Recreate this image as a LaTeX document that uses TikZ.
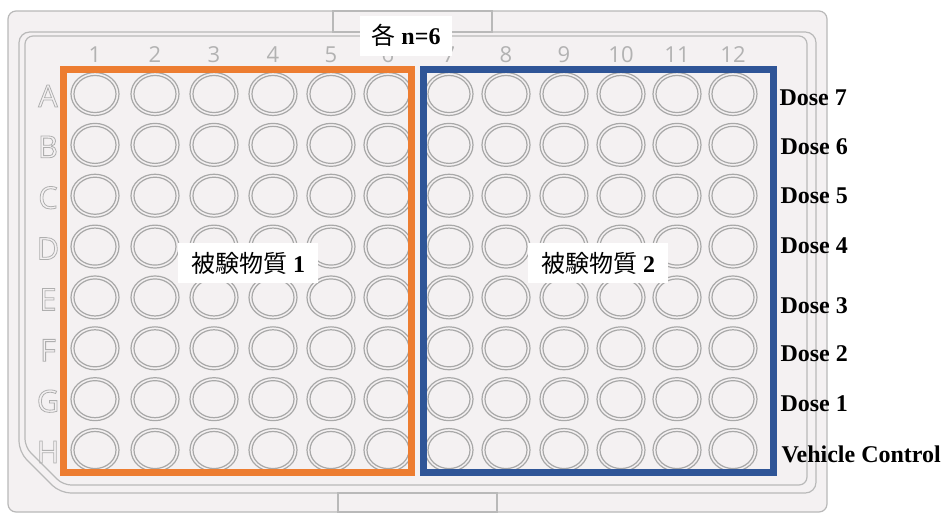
\documentclass[tikz,border=0pt]{standalone}
\usepackage{fontspec}
\setmainfont{Liberation Serif}
\newfontfamily\jpfont{Noto Sans CJK JP}
\newfontfamily\platefont{Open Sans}
\newcommand\hollow[1]{\special{pdf:literal direct 1 Tr 0.6 w}#1\special{pdf:literal direct 0 Tr}}

\tikzset{every picture/.style={line width=0.75pt}}
\tikzset{
  plateline/.style={draw={rgb, 255:red, 185; green, 185; blue, 185 }, line width=0.9pt},
  wellring/.style={draw={rgb, 255:red, 168; green, 168; blue, 168 }, line width=0.9pt},
  groupbox/.style={line width=5.25pt},
  rowlbl/.style={inner sep=0pt, text={rgb, 255:red, 175; green, 175; blue, 175 }, font=\platefont\fontsize{23}{23}\selectfont},
  collbl/.style={inner sep=0pt, text={rgb, 255:red, 178; green, 178; blue, 178 }, font=\platefont\fontsize{16.5}{16.5}\selectfont},
  tag/.style={fill=white, inner sep=0pt, minimum height=30pt, font=\fontsize{18}{20}\selectfont},
  dose/.style={anchor=west, inner sep=0pt, font=\fontsize{18}{20}\selectfont\bfseries}
}

\begin{document}
\begin{tikzpicture}[x=0.75pt,y=0.75pt,yscale=-1,xscale=1]
\useasboundingbox (0,0) rectangle (947,515);

%Plate outline
\draw [plateline, fill={rgb, 255:red, 244; green, 241; blue, 242 }, rounded corners=6] (8,11) rectangle (827,512) ;
%Top tab
\draw [plateline] (333,11) rectangle (492,32) ;
%Inner rim, two lines with the cut corner
\draw [plateline, rounded corners=8] (19,452) -- (19,32) -- (816,32) -- (816,493) -- (60,493) -- cycle ;
\draw [plateline, rounded corners=6] (25,447) -- (25,36) -- (807,36) -- (807,485) -- (63,485) -- cycle ;
%Bottom tab
\draw [plateline] (338,493) rectangle (497,512) ;

%Row letters
\foreach \l [count=\i] in {A,B,C,D,E,F,G,H}
  \node [rowlbl] (row\l) at (48,{96+50.86*(\i-1)}) {\hollow{\l}};

%Column numbers and wells
\foreach \x [count=\c] in {95,155,214,273,331,388,449,506,564,621,677,733} {
  \node [collbl] (col\c) at (\x,55) {\c};
  \foreach \r in {0,...,7} {
    \draw [wellring] (\x,{94+50.86*\r}) ellipse (18pt and 16.1pt) ;
    \draw [wellring] (\x,{94+50.86*\r}) ellipse (15.75pt and 13.9pt) ;
  }
}

%Group frames
\draw [groupbox, draw={rgb, 255:red, 237; green, 125; blue, 49 }] (63,69) rectangle (411,472) ;
\draw [groupbox, draw={rgb, 255:red, 47; green, 85; blue, 151 }] (423,69) rectangle (773,472) ;

% Text Node
\node [tag, minimum width=105pt] (subst1) at (248,263) {{\jpfont 被験物質} \textbf{1}};
% Text Node
\node [tag, minimum width=105pt] (subst2) at (598,263) {{\jpfont 被験物質} \textbf{2}};
% Text Node
\node [tag, minimum width=69pt] (nall) at (406,35.5) {{\jpfont 各} \textbf{n=6}};

% Text Node
\node [dose] (dose7) at (779,98) {Dose 7};
% Text Node
\node [dose] (dose6) at (780,147) {Dose 6};
% Text Node
\node [dose] (dose5) at (780,196) {Dose 5};
% Text Node
\node [dose] (dose4) at (780,246) {Dose 4};
% Text Node
\node [dose] (dose3) at (780,306) {Dose 3};
% Text Node
\node [dose] (dose2) at (780,354) {Dose 2};
% Text Node
\node [dose] (dose1) at (780,404) {Dose 1};
% Text Node
\node [dose] (vehicle) at (781,454) {Vehicle Control};

\end{tikzpicture}
\end{document}
